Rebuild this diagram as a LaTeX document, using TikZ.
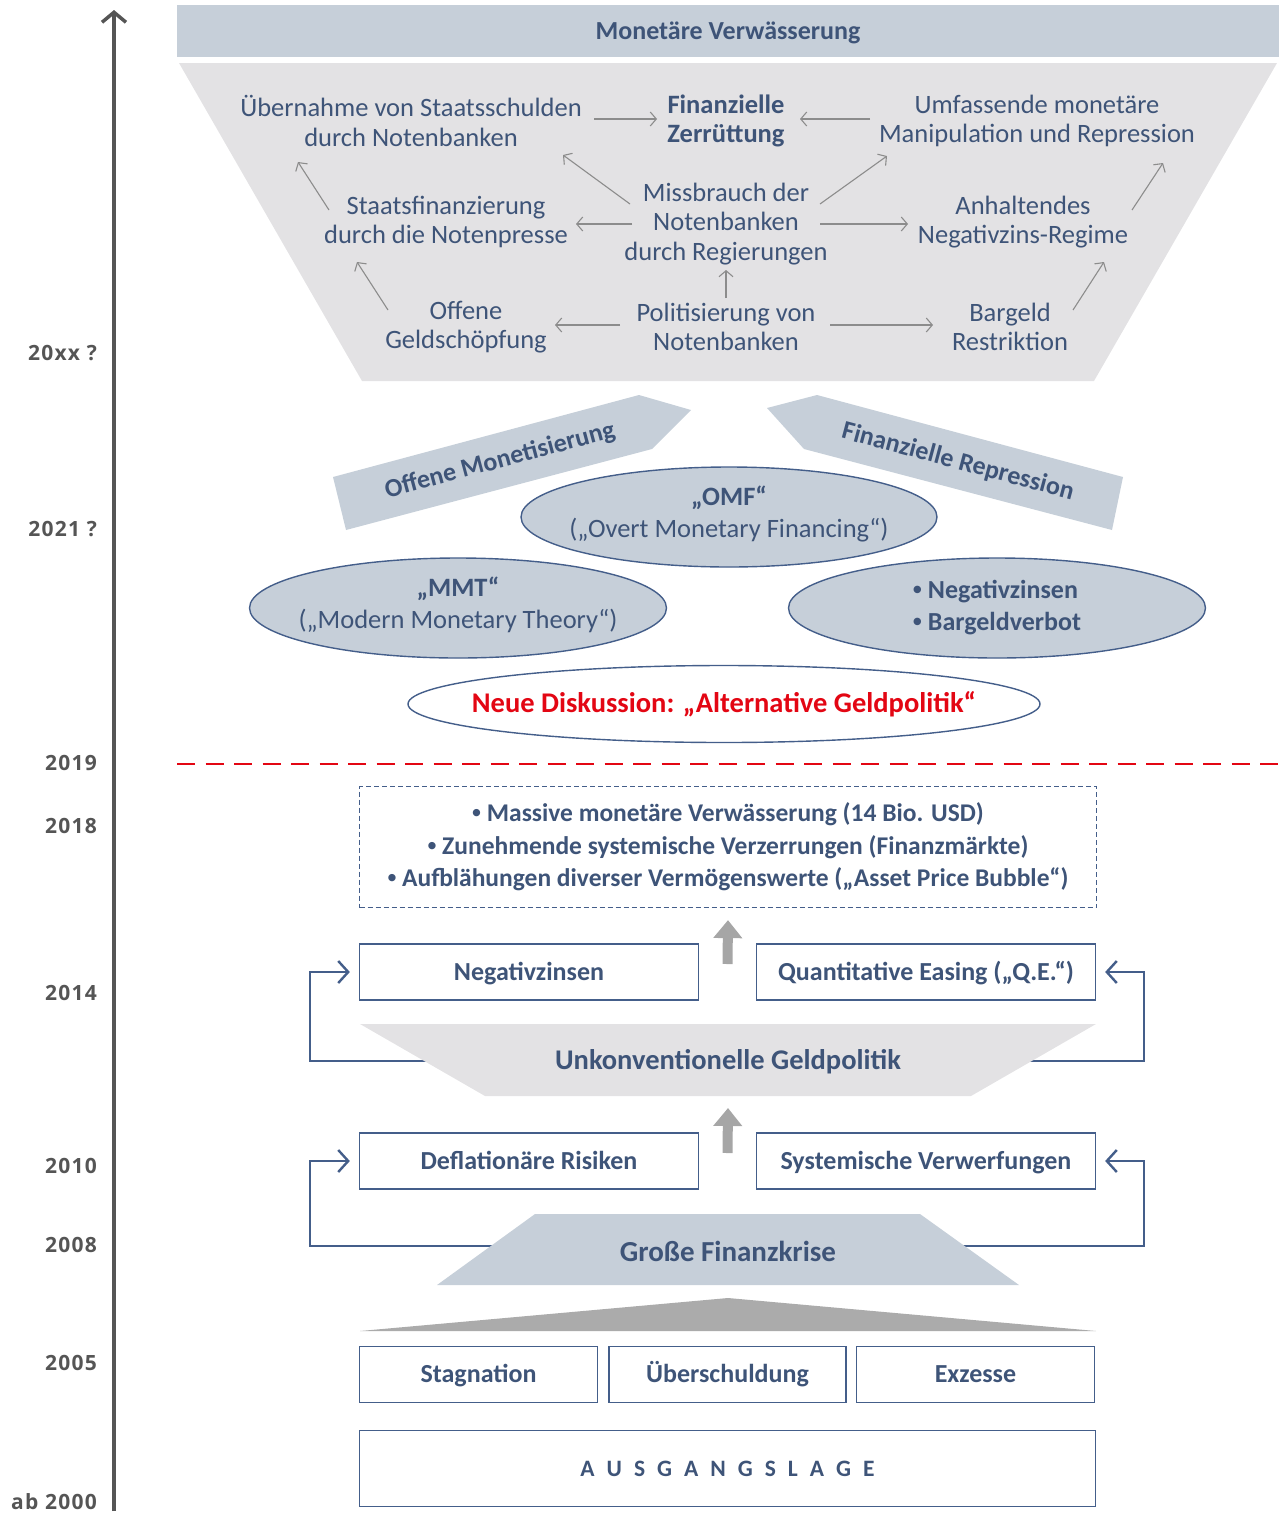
\documentclass[tikz,border=0pt]{standalone}
\usepackage{fontspec}
\setmainfont{Carlito}
\newfontfamily\yearfont{Open Sans}[LetterSpace=6]
\newfontfamily\bulfont{Liberation Sans}
\usetikzlibrary{arrows.meta,shapes.geometric,calc,backgrounds}

\definecolor{txtblue}{RGB}{62,84,120}
\definecolor{lineblue}{RGB}{68,94,138}
\definecolor{paleblue}{RGB}{198,207,217}
\definecolor{palegrey}{RGB}{227,226,228}
\definecolor{arrgrey}{RGB}{140,140,140}
\definecolor{axisgrey}{RGB}{85,85,85}
\definecolor{roofgrey}{RGB}{171,171,171}
\definecolor{blockgrey}{RGB}{166,166,166}
\definecolor{alertred}{RGB}{227,6,19}

\newcommand\ltrgap{\hskip 12pt\relax}
\newcommand\bul{{\bulfont •}}

\begin{document}
\begin{tikzpicture}[x=1pt,y=-1pt,
  ftxt/.style={text=txtblue,align=center,inner sep=0pt,font=\fontsize{26.5}{29.5}\selectfont},
  fbold/.style={text=txtblue,align=center,inner sep=0pt,font=\fontsize{26.5}{29.5}\selectfont\bfseries},
  yearlbl/.style={anchor=east,inner sep=0pt,text=axisgrey,font=\yearfont\bfseries\fontsize{21}{25}\selectfont},
  garrow/.style={draw=arrgrey,line width=1.1pt,-{Straight Barb[length=6pt,width=14pt]}},
  fbarrow/.style={draw=lineblue,line width=2.4pt,-{Straight Barb[length=10pt,width=22pt]}},
  blockarrow/.style={draw=blockgrey,line width=10pt,-{Triangle[length=18pt,width=28pt]}},
  framebox/.style={draw=lineblue,line width=1.3pt,fill=white,text=txtblue,
    font=\fontsize{26}{30}\selectfont\bfseries,inner sep=0pt,text height=19pt,text depth=3pt},
  oval/.style={ellipse,draw=lineblue,line width=1.4pt,inner sep=0pt},
  ovaltxt/.style={text=txtblue,align=center,inner sep=0pt,font=\fontsize{26.5}{32}\selectfont},
]
\useasboundingbox (0,0) rectangle (1279,1513);

% ---------- time axis ----------
\coordinate (axisbot) at (114,1511);
\coordinate (axistop) at (114,10);
\draw[axisgrey,line width=3.5pt,-{Straight Barb[length=10pt,width=24pt]}] (axisbot) -- (axistop);

\node[yearlbl] (y20xx) at (97,353) {20xx ?};
\node[yearlbl] (y2021) at (97,529) {2021 ?};
\node[yearlbl] (y2019) at (97,763) {2019};
\node[yearlbl] (y2018) at (97,826) {2018};
\node[yearlbl] (y2014) at (97,993) {2014};
\node[yearlbl] (y2010) at (97,1166) {2010};
\node[yearlbl] (y2008) at (97,1245) {2008};
\node[yearlbl] (y2005) at (97,1363) {2005};
\node[yearlbl] (y2000) at (97,1502) {ab 2000};

% ---------- top: monetary dilution funnel ----------
\fill[paleblue] (177,5) rectangle (1279,57);
\node[fbold,font=\fontsize{26}{29}\selectfont\bfseries] (mv) at (728,33) {Monetäre Verwässerung};

\fill[palegrey] (179,63) -- (1277,63) -- (1094,381) -- (362,381) -- cycle;

\node[ftxt]  (uebern) at (411,121) {Übernahme von Staatsschulden\\durch Notenbanken};
\node[fbold] (finz)   at (726,121) {Finanzielle\\Zerrüttung};
\node[ftxt]  (umf)    at (1037,121) {Umfassende monetäre\\Manipulation und Repression};
\node[ftxt]  (staats) at (446,222) {Staatsfinanzierung\\durch die Notenpresse};
\node[ftxt]  (miss)   at (726,224) {Missbrauch der\\Notenbanken\\durch Regierungen};
\node[ftxt]  (anh)    at (1023,222) {Anhaltendes\\Negativzins-Regime};
\node[ftxt]  (offg)   at (466,327) {Offene\\Geldschöpfung};
\node[ftxt]  (polit)  at (726,327) {Politisierung von\\Notenbanken};
\node[ftxt]  (barg)   at (1010,327) {Bargeld\\Restriktion};

\draw[garrow] ([shift={(183,-2)}]uebern.center) -- ([shift={(-69,-2)}]finz.center);
\draw[garrow] ([shift={(-167,-2)}]umf.center) -- ([shift={(74,-2)}]finz.center);
\draw[garrow] ([shift={(-96,-20)}]miss.center) -- ([shift={(152,34)}]uebern.center);
\draw[garrow] ([shift={(94,-20)}]miss.center) -- ([shift={(-150,35)}]umf.center);
\draw[garrow] ([shift={(-94,0)}]miss.center) -- ([shift={(130,2)}]staats.center);
\draw[garrow] ([shift={(94,0)}]miss.center) -- ([shift={(-115,2)}]anh.center);
\draw[garrow] ([shift={(-117,-12)}]staats.center) -- ([shift={(-113,41)}]uebern.center);
\draw[garrow] ([shift={(109,-12)}]anh.center) -- ([shift={(126,42)}]umf.center);
\draw[garrow] ([shift={(-78,-17)}]offg.center) -- ([shift={(-89,40)}]staats.center);
\draw[garrow] ([shift={(63,-17)}]barg.center) -- ([shift={(81,40)}]anh.center);
\draw[garrow] ([shift={(0,-29)}]polit.center) -- ([shift={(0,46)}]miss.center);
\draw[garrow] ([shift={(-106,-2)}]polit.center) -- ([shift={(89,-2)}]offg.center);
\draw[garrow] ([shift={(104,-2)}]polit.center) -- ([shift={(-77,-2)}]barg.center);

% ---------- ribbons ----------
\fill[paleblue] (333,477) -- (639,395) -- (691,410) -- (652,449) -- (346,530) -- cycle;
\fill[paleblue] (767,408) -- (817,395) -- (1123,477) -- (1112,530) -- (804,449) -- cycle;
\node[fbold,font=\fontsize{26}{29}\selectfont\bfseries,rotate=15]  (ribl) at (500,461) {Offene Monetisierung};
\node[fbold,font=\fontsize{26}{29}\selectfont\bfseries,rotate=-15] (ribr) at (958,462) {Finanzielle Repression};

% ---------- ellipses ----------
\node[oval,fill=paleblue,minimum width=416pt,minimum height=100pt] (omf) at (729,517) {};
\node[ovaltxt] (omft) at ([shift={(0,-3)}]omf.center)
  {{\bfseries „OMF“}\\(„Overt Monetary Financing“)};

\node[oval,fill=paleblue,minimum width=417pt,minimum height=100pt] (mmt) at (458,608) {};
\node[ovaltxt] (mmtt) at ([shift={(0,-3)}]mmt.center)
  {{\bfseries „MMT“}\\(„Modern Monetary Theory“)};

\node[oval,fill=paleblue,minimum width=417pt,minimum height=100pt] (nz) at (997,608) {};
\node[ovaltxt,align=left,font=\fontsize{26}{32}\selectfont\bfseries] (nzt) at (nz.center)
  {\bul\ Negativzinsen\\\bul\ Bargeldverbot};

\node[oval,fill=white,minimum width=632pt,minimum height=77pt] (neu) at (724,704) {};
\node[text=alertred,inner sep=0pt,font=\fontsize{28.5}{32}\selectfont\bfseries] (neut) at (neu.center)
  {Neue Diskussion: „Alternative Geldpolitik“};

% ---------- 2019 threshold ----------
\coordinate (thl) at (177,764);
\coordinate (thr) at (1279,764);
\draw[alertred,line width=2.5pt,dash pattern=on 18pt off 10.5pt] (thl) -- (thr);

% ---------- consequences ----------
\node[draw=lineblue,line width=1.2pt,dash pattern=on 5pt off 3pt,text=txtblue,align=center,
  inner sep=0pt,minimum width=737pt,minimum height=121pt,font=\fontsize{25.5}{32.5}\selectfont\bfseries]
  (cons) at (728,847) {\bul\ Massive monetäre Verwässerung (14 Bio. USD)\\
  \bul\ Zunehmende systemische Verzerrungen (Finanzmärkte)\\
  \bul\ Aufblähungen diverser Vermögenswerte („Asset Price Bubble“)};

% ---------- unconventional policy ----------
\node[framebox,minimum width=339pt,minimum height=56pt] (neg) at (529,972) {Negativzinsen};
\node[framebox,minimum width=339pt,minimum height=56pt] (qe) at (926,972) {Quantitative Easing („Q.E.“)};
\coordinate (gap1) at ($(neg.east)!0.5!(qe.west)$);
\draw[blockarrow] ([shift={(0,-8)}]gap1) -- ([shift={(0,12)}]cons.south);

\fill[palegrey] (360,1024) -- (1096,1024) -- (971,1096) -- (485,1096) -- cycle;
\node[fbold,font=\fontsize{28.5}{32}\selectfont\bfseries] (unk) at (728,1062) {Unkonventionelle Geldpolitik};

% ---------- crisis ----------
\node[framebox,minimum width=339pt,minimum height=56pt] (defl) at (529,1161) {Deflationäre Risiken};
\node[framebox,minimum width=339pt,minimum height=56pt] (sysv) at (926,1161) {Systemische Verwerfungen};
\coordinate (gap2) at ($(defl.east)!0.5!(sysv.west)$);
\draw[blockarrow] ([shift={(0,-8)}]gap2) -- ([shift={(0,12)}]unk.center |- 0,1096);

\fill[paleblue] (535,1214) -- (920,1214) -- (1019,1285) -- (437,1285) -- cycle;
\node[fbold,font=\fontsize{29}{32}\selectfont\bfseries] (gfk) at (728,1251) {Große Finanzkrise};

% feedback loops, drawn beneath the trapezoids
\begin{scope}[on background layer]
\draw[fbarrow] ([shift={(0,-1)}]unk.center) -| ([xshift=-49pt]neg.west) -- ([xshift=-9pt]neg.west);
\draw[fbarrow] ([shift={(0,-1)}]unk.center) -| ([xshift=48pt]qe.east) -- ([xshift=9pt]qe.east);
\draw[fbarrow] ([shift={(0,-5)}]gfk.center) -| ([xshift=-49pt]defl.west) -- ([xshift=-9pt]defl.west);
\draw[fbarrow] ([shift={(0,-5)}]gfk.center) -| ([xshift=48pt]sysv.east) -- ([xshift=9pt]sysv.east);
\end{scope}

% ---------- starting point ----------
\fill[roofgrey] (360,1331) -- (728,1298) -- (1096,1331) -- cycle;
\node[framebox,minimum width=238pt,minimum height=56pt] (stag) at (478.5,1374.5) {Stagnation};
\node[framebox,minimum width=237pt,minimum height=56pt] (ueber) at (727.5,1374.5) {Überschuldung};
\node[framebox,minimum width=238pt,minimum height=56pt] (exz) at (975.5,1374.5) {Exzesse};

\node[framebox,minimum width=736pt,minimum height=76pt,font=\fontsize{23.5}{26}\selectfont\bfseries,
  text height=15pt,text depth=0pt]
  (ausg) at (727.5,1468.5) {A\ltrgap U\ltrgap S\ltrgap G\ltrgap A\ltrgap N\ltrgap G\ltrgap S\ltrgap L\ltrgap A\ltrgap G\ltrgap E};

\end{tikzpicture}
\end{document}
